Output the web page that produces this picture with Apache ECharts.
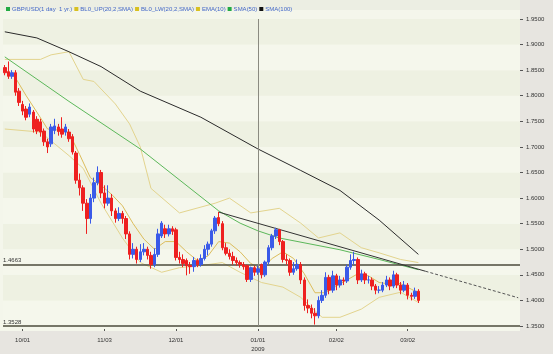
<!DOCTYPE html>
<html>
<head>
<meta charset="utf-8">
<script src="https://cdn.jsdelivr.net/npm/echarts/dist/echarts.min.js"></script>
<style>
  html, body { margin: 0; padding: 0; background: #e7e5e0; }
  #chart { width: 553px; height: 354px; }
</style>
</head>
<body>
<div id="chart"></div>
<script>
// weekday slots, starting 2008-09-24 (data + empty space on the right)
const slotCount = 145;
const categories = [];
for (let d = new Date(Date.UTC(2008, 8, 24)); categories.length < slotCount; d.setUTCDate(d.getUTCDate() + 1)) {
	const wd = d.getUTCDay();
	if (wd === 0 || wd === 6) continue;
	const mm = String(d.getUTCMonth() + 1).padStart(2, '0');
	const dd = String(d.getUTCDate()).padStart(2, '0');
	categories.push(mm + '/' + dd);
}
const tickLabels = ['10/01', '11/03', '12/01', '01/01', '02/02', '03/02'];

const opens = [1.855,1.847,1.838,1.845,1.809,1.783,1.774,1.764,1.768,1.754,1.749,1.731,1.710,1.706,1.732,1.739,1.735,1.729,1.729,1.720,
	1.688,1.635,1.620,1.590,1.560,1.600,1.630,1.650,1.610,1.590,1.600,1.575,1.560,1.570,1.560,1.530,1.490,1.500,1.480,1.495,
	1.500,1.488,1.470,1.490,1.526,1.540,1.530,1.540,1.538,1.484,1.480,1.478,1.468,1.466,1.478,1.470,1.482,1.500,1.510,1.536,
	1.562,1.550,1.503,1.492,1.486,1.478,1.474,1.470,1.468,1.441,1.464,1.455,1.470,1.450,1.475,1.503,1.526,1.538,1.515,1.480,
	1.478,1.455,1.462,1.470,1.440,1.390,1.385,1.375,1.370,1.400,1.410,1.445,1.420,1.448,1.430,1.440,1.438,1.465,1.478,1.480,
	1.440,1.452,1.440,1.440,1.428,1.420,1.420,1.430,1.440,1.428,1.450,1.430,1.420,1.430,1.410,1.408,1.418];
const closes = [1.845,1.838,1.845,1.807,1.787,1.770,1.758,1.778,1.735,1.731,1.729,1.710,1.700,1.739,1.741,1.730,1.725,1.739,1.716,1.690,
	1.635,1.620,1.590,1.560,1.600,1.630,1.650,1.610,1.590,1.600,1.575,1.560,1.570,1.560,1.530,1.490,1.500,1.480,1.495,1.500,
	1.488,1.470,1.490,1.530,1.551,1.530,1.540,1.535,1.484,1.480,1.472,1.468,1.466,1.478,1.470,1.482,1.500,1.510,1.536,1.561,
	1.550,1.503,1.492,1.486,1.478,1.474,1.470,1.466,1.441,1.464,1.455,1.462,1.450,1.475,1.503,1.526,1.538,1.515,1.480,1.478,
	1.455,1.462,1.470,1.440,1.390,1.385,1.375,1.370,1.400,1.410,1.445,1.420,1.448,1.430,1.440,1.438,1.465,1.478,1.480,1.440,
	1.452,1.440,1.440,1.428,1.420,1.420,1.430,1.440,1.428,1.450,1.430,1.420,1.430,1.410,1.408,1.418,1.400];
const lows = [1.840,1.833,1.833,1.800,1.780,1.762,1.752,1.758,1.728,1.725,1.720,1.702,1.688,1.700,1.725,1.722,1.718,1.722,1.710,1.685,
	1.628,1.605,1.575,1.530,1.550,1.592,1.625,1.600,1.580,1.585,1.565,1.552,1.555,1.550,1.520,1.480,1.482,1.472,1.475,1.488,
	1.480,1.462,1.465,1.485,1.522,1.522,1.525,1.528,1.478,1.472,1.465,1.449,1.452,1.456,1.465,1.466,1.478,1.488,1.505,1.530,
	1.545,1.498,1.488,1.480,1.470,1.468,1.464,1.460,1.436,1.436,1.448,1.450,1.443,1.446,1.470,1.498,1.520,1.508,1.474,1.470,
	1.448,1.450,1.458,1.432,1.380,1.375,1.365,1.3528,1.365,1.395,1.405,1.412,1.415,1.420,1.425,1.430,1.434,1.460,1.470,1.432,
	1.436,1.432,1.433,1.420,1.412,1.414,1.416,1.426,1.420,1.424,1.424,1.412,1.416,1.402,1.400,1.403,1.395];
const highs = [1.860,1.867,1.850,1.850,1.815,1.790,1.780,1.785,1.772,1.760,1.755,1.736,1.716,1.745,1.755,1.745,1.758,1.745,1.735,1.725,
	1.692,1.648,1.625,1.598,1.608,1.640,1.662,1.655,1.625,1.625,1.608,1.580,1.582,1.575,1.565,1.535,1.512,1.505,1.510,1.512,
	1.505,1.495,1.502,1.540,1.555,1.548,1.548,1.545,1.542,1.495,1.490,1.482,1.475,1.485,1.482,1.490,1.508,1.515,1.540,1.565,
	1.573,1.555,1.512,1.500,1.495,1.484,1.478,1.475,1.470,1.466,1.468,1.468,1.472,1.478,1.508,1.530,1.542,1.540,1.518,1.490,
	1.482,1.475,1.480,1.475,1.445,1.402,1.392,1.385,1.408,1.420,1.455,1.450,1.458,1.452,1.448,1.445,1.470,1.490,1.495,1.484,
	1.460,1.456,1.448,1.445,1.432,1.428,1.436,1.448,1.445,1.458,1.454,1.436,1.438,1.434,1.415,1.425,1.422];

// indicator lines: [slot index, value]
const bandUp = [[0,1.871],[10,1.871],[13,1.880],[18,1.886],[22,1.832],[25,1.828],[31,1.784],[35,1.745],[38,1.700],[41,1.619],[49,1.571],[59,1.590],[63,1.600],[69,1.571],[77,1.580],[83,1.551],[88,1.522],[94,1.532],[100,1.503],[105,1.493],[111,1.480],[116,1.474]];
const bandLow = [[0,1.735],[10,1.729],[18,1.683],[22,1.658],[27,1.590],[33,1.522],[38,1.474],[44,1.455],[49,1.464],[55,1.468],[61,1.474],[66,1.455],[72,1.435],[78,1.426],[83,1.406],[89,1.367],[94,1.367],[100,1.383],[105,1.406],[111,1.416],[116,1.396]];
const ema10 = [[0,1.850],[3,1.835],[6,1.800],[9,1.768],[12,1.735],[15,1.733],[18,1.728],[21,1.685],[24,1.640],[27,1.625],[30,1.607],[33,1.585],[36,1.550],[39,1.520],[42,1.500],[45,1.515],[48,1.515],[51,1.495],[54,1.478],[57,1.487],[60,1.515],[63,1.512],[66,1.495],[69,1.472],[72,1.462],[75,1.482],[78,1.495],[81,1.482],[84,1.452],[87,1.415],[90,1.415],[93,1.428],[96,1.440],[99,1.452],[102,1.448],[105,1.435],[108,1.432],[111,1.433],[114,1.422],[116,1.415]];
const sma50 = [[0,1.876],[18,1.789],[38,1.696],[60,1.575],[66,1.551],[71,1.536],[77,1.522],[94,1.499],[105,1.480],[116,1.460]];
const sma100 = [[0,1.925],[9,1.913],[18,1.886],[27,1.857],[38,1.809],[55,1.758],[71,1.696],[83,1.654],[94,1.615],[105,1.557],[116,1.490]];

const levels = [1.4663, 1.3528];
const trendPoints = [[60, 1.5726], [118, 1.457], [144, 1.4052]];
const lastPrice = 1.4001;
const yearMark = '01/01';

const names = ['GBP/USD(1 day  1 yr.)', 'BL0_UP(20,2,SMA)', 'BL0_LW(20,2,SMA)', 'EMA(10)', 'SMA(50)', 'SMA(100)'];
const legendColors = ['#22aa44', '#d8c020', '#d8c020', '#d8c020', '#22aa44', '#111111'];

const myChart = echarts.init(document.getElementById('chart'), null, { renderer: 'canvas', devicePixelRatio: 1 });
const font = 'Liberation Sans, Arial, sans-serif';

const lineSeries = (name, data, color, width) => ({
	name: name,
	type: 'line',
	data: data,
	symbol: 'none',
	silent: true,
	xAxisIndex: 1,
	yAxisIndex: 1,
	lineStyle: { color: color, width: width },
	itemStyle: { color: color },
	z: 3
});

const option = {
	animation: false,
	backgroundColor: '#e7e5e0',
	textStyle: { fontFamily: font },
	legend: {
		left: 1,
		top: 1,
		itemWidth: 4,
		itemHeight: 4,
		itemGap: 2,
		icon: 'rect',
		textStyle: { fontSize: 6, color: '#4468c8', fontFamily: font, padding: [0, 0, 0, -3] },
		data: names.map((n, i) => ({
			name: n,
			itemStyle: { color: legendColors[i], borderColor: legendColors[i], borderWidth: 0 }
		}))
	},
	grid: [
		// legend strip + plot backdrop
		{ left: 0, right: 33, top: 0, bottom: 23, show: true, backgroundColor: '#eceee3', borderWidth: 0 },
		{ left: 3, right: 33, top: 19, bottom: 25 },
		{ left: 0, right: 33, top: 10, bottom: 23, show: true, backgroundColor: '#f4f6eb', borderWidth: 0 }
	],
	xAxis: [
		{ gridIndex: 0, type: 'value', show: false },
		{
			gridIndex: 1,
			type: 'category',
			data: categories,
			boundaryGap: true,
			offset: 3,
			axisLine: { show: false },
			axisTick: {
				show: true,
				length: 2,
				lineStyle: { color: '#555' },
				interval: (i, v) => tickLabels.includes(v),
				alignWithLabel: true
			},
			axisLabel: {
				fontSize: 6,
				color: '#333',
				margin: 7,
				lineHeight: 9,
				interval: (i, v) => tickLabels.includes(v),
				formatter: v => v === yearMark ? v + '\n2009' : v
			},
			splitLine: { show: false }
		},
		{ gridIndex: 2, type: 'value', show: false }
	],
	yAxis: [
		{ gridIndex: 0, type: 'value', show: false },
		{
			gridIndex: 1,
			type: 'value',
			position: 'right',
			min: 1.35,
			max: 1.95,
			interval: 0.05,
			axisLine: { show: false },
			axisTick: { show: true, length: 3, inside: false, lineStyle: { color: '#555' } },
			axisLabel: { fontSize: 6, color: '#333', margin: 6, formatter: v => v.toFixed(4) },
			splitLine: { show: false },
			splitArea: { show: true, areaStyle: { color: ['#f5f7ec', '#eef1e2'] } }
		},
		{ gridIndex: 2, type: 'value', show: false }
	],
	series: [
		{
			name: names[0],
			type: 'candlestick',
			xAxisIndex: 1,
			yAxisIndex: 1,
			data: opens.map((o, i) => [o, closes[i], lows[i], highs[i]]),
			barWidth: 3,
			itemStyle: {
				color: '#3a5ae8',
				color0: '#ee2020',
				borderColor: '#3a5ae8',
				borderColor0: '#ee2020',
				borderWidth: 1
			},
			z: 5,
			markLine: {
				silent: true,
				symbol: 'none',
				animation: false,
				data: [
					...levels.map(v => ({
						yAxis: v,
						lineStyle: { color: '#4b4b3c', width: 1.5, type: 'solid' },
						label: { show: true, position: 'insideStartTop', distance: [0, 1], formatter: v.toFixed(4), fontSize: 6, color: '#333', fontFamily: font }
					})),
					{ xAxis: yearMark, lineStyle: { color: '#8a8a80', width: 1, type: 'solid' }, label: { show: false } },
					[
						{ coord: trendPoints[0], lineStyle: { color: '#333', width: 1, type: 'solid' }, label: { show: false } },
						{ coord: trendPoints[1] }
					],
					[
						{ coord: trendPoints[1], lineStyle: { color: '#555', width: 1, type: [3, 2] }, label: { show: false } },
						{ coord: trendPoints[2] }
					],
					{
						yAxis: lastPrice,
						lineStyle: { opacity: 0 },
						label: {
							show: true,
							position: 'end',
							distance: 1,
							formatter: lastPrice.toFixed(4),
							fontSize: 6,
							color: '#fff',
							backgroundColor: '#16896b',
							padding: [1, 6, 0, 6],
							fontFamily: font
						}
					}
				]
			}
		},
		lineSeries(names[1], bandUp, '#e3d48e', 1),
		lineSeries(names[2], bandLow, '#e3d48e', 1),
		lineSeries(names[3], ema10, '#dcbd5c', 1),
		lineSeries(names[4], sma50, '#5cb85a', 1),
		lineSeries(names[5], sma100, '#2a2a2a', 1)
	]
};

option && myChart.setOption(option);
</script>
</body>
</html>
